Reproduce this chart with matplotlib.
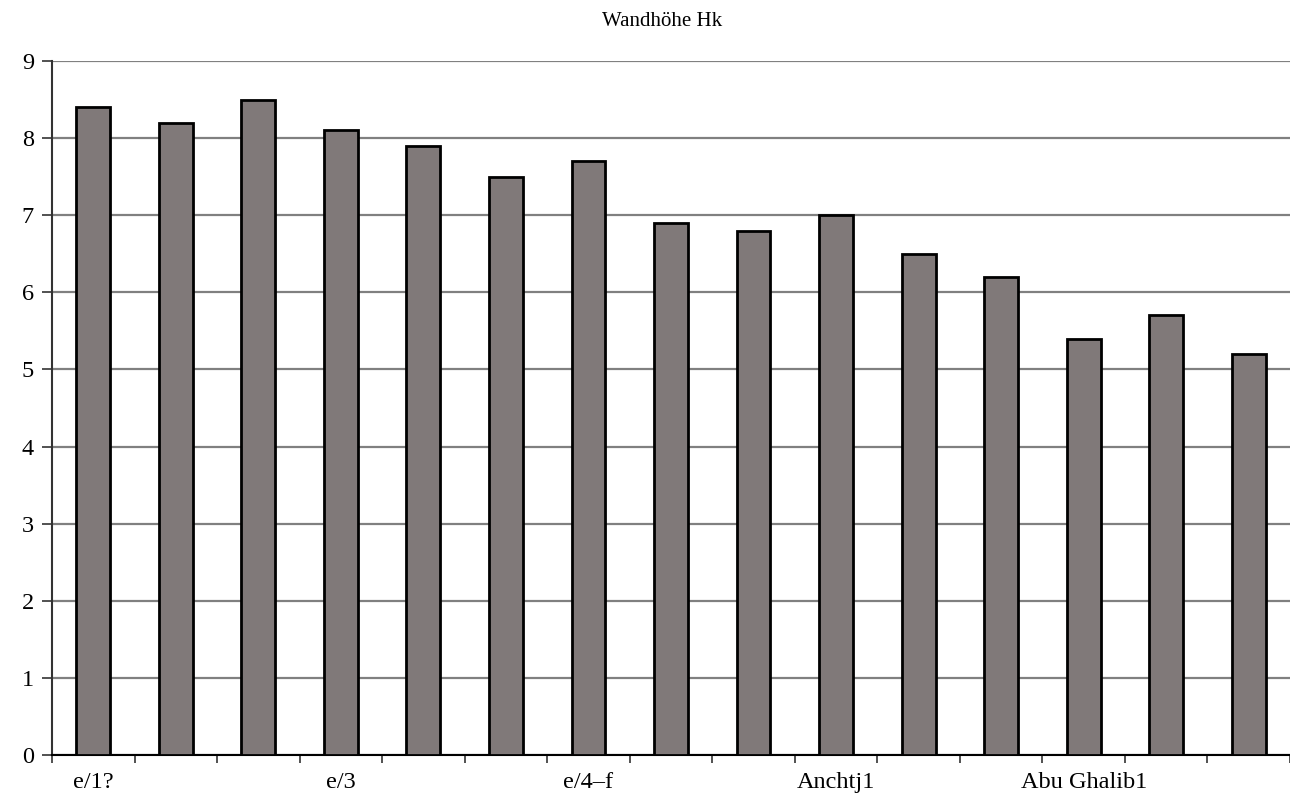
import numpy as np
import matplotlib
matplotlib.use("Agg")
import matplotlib.pyplot as plt

# Data
categories = ["e/1?", "", "", "e/3", "", "", "e/4–f", "", "", "Anchtj1",
              "", "", "Abu Ghalib1", "", ""]
values = [8.4, 8.2, 8.5, 8.1, 7.9, 7.5, 7.7, 6.9, 6.8, 7.0, 6.5, 6.2, 5.4, 5.7, 5.2]
title = "Wandhöhe Hk"

plt.rcParams["font.family"] = ["Liberation Serif", "DejaVu Serif"]

fig = plt.figure(figsize=(12.9, 7.97), dpi=100)
ax = fig.add_axes([52 / 1290, 1 - 755 / 797, 1 - 52 / 1290, (755 - 61) / 797])

x = np.arange(len(values))
ax.bar(x, values, width=0.41, color="#807979", edgecolor="black", linewidth=2, zorder=3)

ax.set_xlim(-0.5, len(values) - 0.5)
ax.set_ylim(0, 9)
ax.set_yticks(range(0, 10))
ax.yaxis.grid(True, color="#808080", linewidth=1.6, zorder=0)

# labels at category centres, tick marks at category boundaries
ax.set_xticks(x)
ax.set_xticklabels(categories)
ax.set_xticks(np.arange(-0.5, len(values), 1.0), minor=True)
ax.tick_params(axis="x", which="major", length=0, pad=12, labelsize=17.5)
ax.tick_params(axis="x", which="minor", length=6, width=1.2, direction="out", color="#333333")
ax.tick_params(axis="y", length=7, width=1.2, color="#333333", labelsize=17.5, pad=6)

for s in ["top", "right"]:
    ax.spines[s].set_visible(False)
ax.spines["left"].set_color("#333333")
ax.spines["left"].set_linewidth(1.5)
ax.spines["bottom"].set_color("black")
ax.spines["bottom"].set_linewidth(1.5)

fig.text(0.513, 1 - 22 / 797, title, ha="center", va="center", fontsize=15)

fig.savefig("out.png", dpi=100)
